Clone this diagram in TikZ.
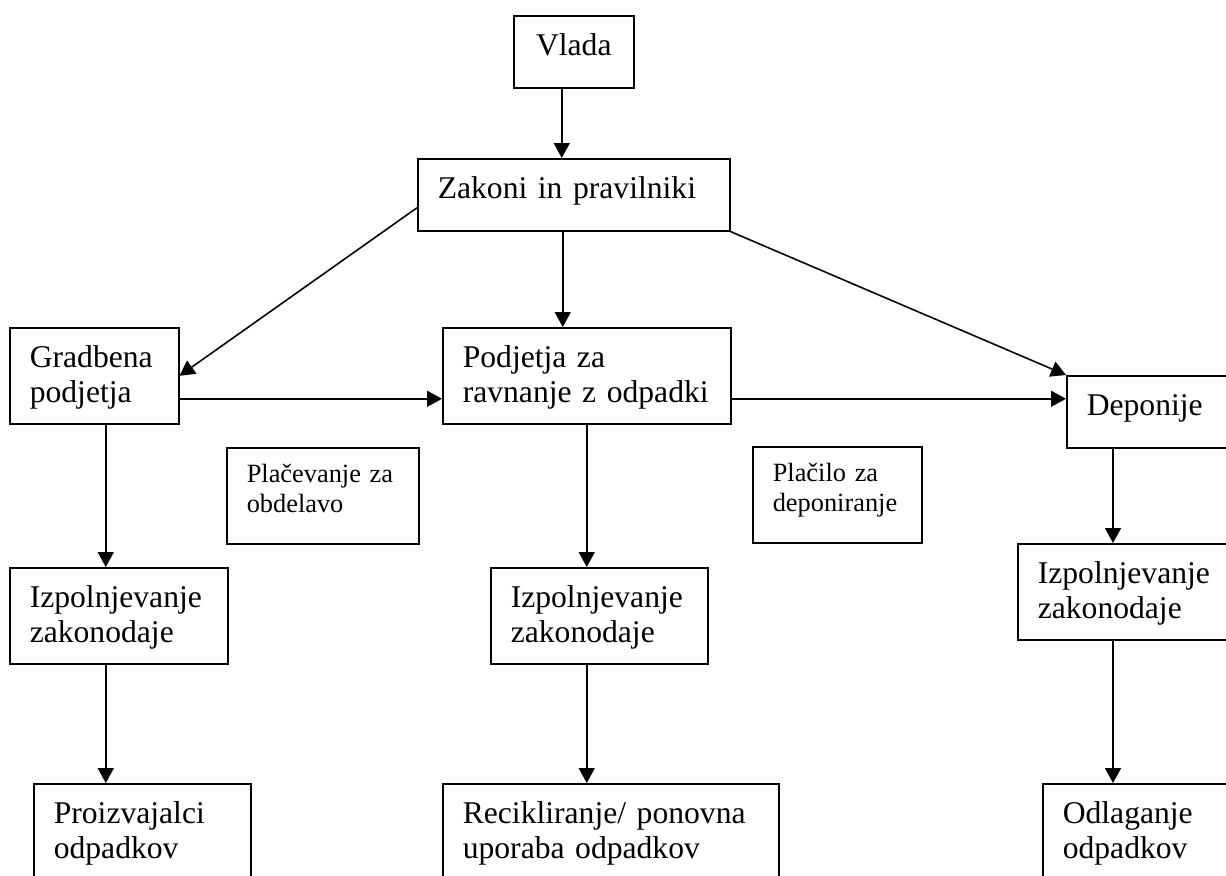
\documentclass[tikz,border=0pt]{standalone}
\usepackage{fontspec}
\setmainfont{Liberation Serif}
\usepackage{tikz}
\usetikzlibrary{arrows.meta, calc}
\tikzset{
	box/.style      ={rectangle, draw=black, line width=0.9pt, anchor=north west, align=left, inner xsep=0.4cm, inner ysep=0pt, font=\fontsize{18}{20}\selectfont, text height=0.8cm},
	tallbox/.style  ={box, text depth=1.12cm},
	flatbox/.style  ={box, text depth=0.64cm},
	notebox/.style  ={box, font=\fontsize{15}{17}\selectfont, text height=0.7cm, text depth=1.22cm},
	flowarrow/.style={-{Triangle[length=0.3cm, width=0.32cm]}, line width=0.9pt},
}
\begin{document}
\begin{tikzpicture}[x=0.02cm, y=-0.02cm]
	\useasboundingbox (0,0) rectangle (1226,875);
	\clip (0,0) rectangle (1226,875);
	% top
	\node[flatbox, align=center, minimum width=2.4cm, inner xsep=0pt] (vlada) at (513,15) {Vlada};
	\node[flatbox, text width=5.44cm] (zakoni) at (417,158) {Zakoni in pravilniki};
	% middle row
	\node[tallbox, text width=2.58cm] (gradbena) at (9,327) {Gradbena\\podjetja};
	\node[tallbox, text width=4.96cm] (podjetja) at (442,327) {Podjetja za\\ravnanje z odpadki};
	\node[flatbox, text width=3.2cm] (deponije) at (1066,375) {Deponije};
	\node[notebox, text width=3.04cm] (placevanje) at (226,447) {Plačevanje za\\obdelavo};
	\node[notebox, text width=2.58cm] (placilo) at (752,446) {Plačilo za\\deponiranje};
	% compliance
	\node[tallbox, text width=3.56cm] (izpol1) at (9,567) {Izpolnjevanje\\zakonodaje};
	\node[tallbox, text width=3.54cm] (izpol2) at (490,567) {Izpolnjevanje\\zakonodaje};
	\node[tallbox, text width=3.8cm] (izpol3) at (1017,543) {Izpolnjevanje\\zakonodaje};
	% bottom
	\node[tallbox, text width=3.54cm] (proizv) at (33,783) {Proizvajalci\\odpadkov};
	\node[tallbox, text width=5.92cm] (recikl) at (442,783) {Recikliranje/ ponovna\\uporaba odpadkov};
	\node[tallbox, text width=3.8cm] (odlag) at (1042,783) {Odlaganje\\odpadkov};
	% arrows
	\draw[flowarrow] ([xshift=-0.24cm]vlada.south) -- ([xshift=-0.24cm]vlada.south |- zakoni.north);
	\draw[flowarrow] ([xshift=-0.48cm]podjetja.north |- zakoni.south) -- ([xshift=-0.48cm]podjetja.north);
	\draw[flowarrow] ([yshift=-0.26cm]zakoni.west) -- (gradbena.east);
	\draw[flowarrow] (zakoni.south east) -- (deponije.north west);
	\draw[flowarrow] ([yshift=-0.46cm]gradbena.east) -- ([yshift=-0.46cm]podjetja.west);
	\draw[flowarrow] ([yshift=-0.46cm]podjetja.east) -- ([yshift=-0.46cm]podjetja.east -| deponije.west);
	\draw[flowarrow] ([xshift=0.23cm]gradbena.south) -- ([xshift=0.23cm]gradbena.south |- izpol1.north);
	\draw[flowarrow] ([xshift=-0.26cm]izpol1.south) -- ([xshift=-0.26cm]izpol1.south |- proizv.north);
	\draw[flowarrow] (podjetja.south) -- (podjetja.south |- izpol2.north);
	\draw[flowarrow] ([xshift=-0.25cm]izpol2.south) -- ([xshift=-0.25cm]izpol2.south |- recikl.north);
	\draw[flowarrow] ([xshift=0.94cm]deponije.south west) -- ([xshift=0.94cm]deponije.south west |- izpol3.north);
	\draw[flowarrow] ([xshift=1.92cm]izpol3.south west) -- ([xshift=1.92cm]izpol3.south west |- odlag.north);
\end{tikzpicture}
\end{document}
